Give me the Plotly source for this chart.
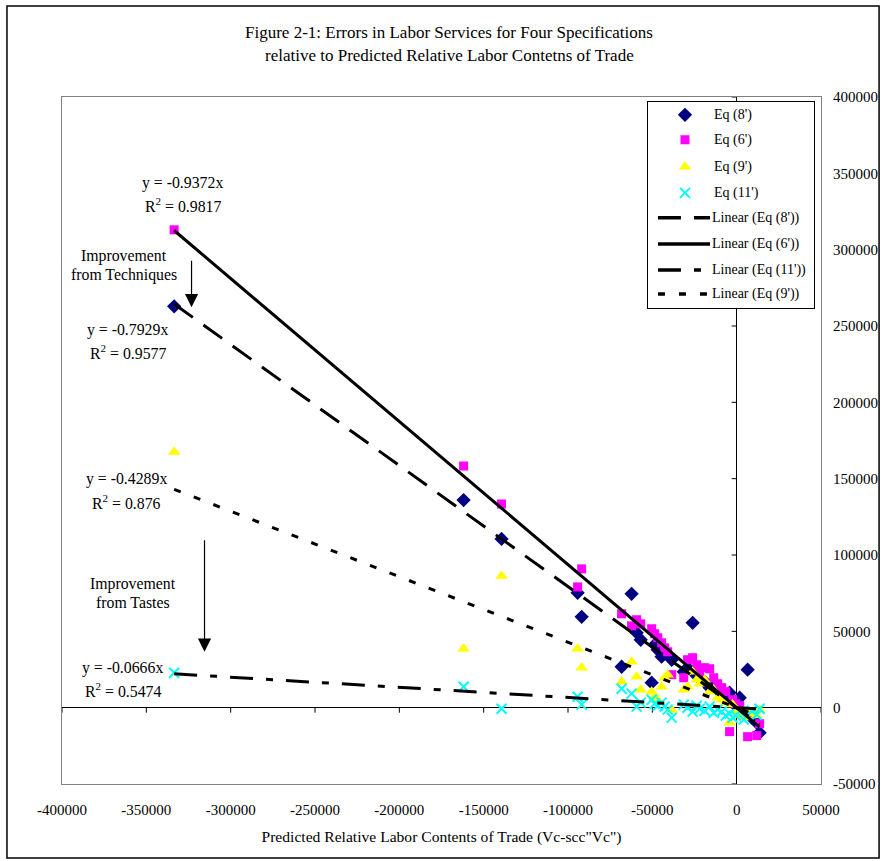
import plotly.graph_objects as go

# Predicted relative labour content of trade (shared by all four specifications)
x_pred = [-333500, -161900, -139400, -94300, -91900, -68200, -62300, -59300, -56900, -50400,
          -48600, -46800, -44500, -42700, -40900, -38500, -31400, -29100, -26100, -23700,
          -21900, -19000, -16000, -13600, -11300, -8900, -6500, -4200, -2400, -600,
          1800, 4200, 6500, 8900, 11900, 13600]

# Errors in labour services for each specification
err_eq8 = [262900, 136000, 110500, 75200, 59500, 26800, 74600, 49100, 44500, 16400,
           41200, 37900, 33400, 36600, 34700, 31400, 23500, 26200, 55600, 20900,
           19600, 17000, 13100, 14400, 11800, 9200, 7800, 9800, 3900, 1300,
           6500, -3900, 24900, -6500, -9800, -16400]
err_eq6 = [313000, 158300, 133400, 79100, 90900, 61500, 53600, 57600, 54900, 51700,
           48400, 45800, 42500, 39200, 36600, 21600, 19600, 31400, 32700, 28100,
           23500, 26200, 25500, 19600, 15700, 13100, 10500, -15700, 5200, 2600,
           1300, -2600, -19000, -3900, -18300, -10500]
err_eq9 = [167400, 38600, 86300, 38600, 26200, 17000, 30100, 20300, 11800, 10500,
           7200, 5200, 13700, 19600, 21600, -1300, 11800, 13700, 23500, 18300,
           15700, 18300, 10500, 11800, 6500, 5200, 3300, -9800, 2000, -2600,
           -4600, -6500, -2600, -3900, -5200, -1300]
err_eq11 = [22900, 13700, -700, 7200, 2000, 12400, 9200, 700, 3300, 5200,
            2600, 1300, 3300, 700, -1300, -6500, 2000, 0, -2600, 1300,
            -700, -2000, 700, -3300, -1300, -2600, -5200, -3900, -6500, -5200,
            -2600, -7800, -5200, -2000, -4600, -700]

# Fitted slopes (regressions through the origin) and their R-squared
slope_eq8, r2_eq8 = -0.7929, 0.9577
slope_eq6, r2_eq6 = -0.9372, 0.9817
slope_eq9, r2_eq9 = -0.4289, 0.876
slope_eq11, r2_eq11 = -0.0666, 0.5474

x_ticks = [-400000, -350000, -300000, -250000, -200000, -150000, -100000, -50000, 0, 50000]
y_ticks = [-50000, 0, 50000, 100000, 150000, 200000, 250000, 300000, 350000, 400000]

FONT = "Liberation Serif, Times New Roman, serif"
BLACK = "black"

marker_styles = {
    "Eq (8')": dict(symbol="diamond", size=11, color="#000080"),
    "Eq (6')": dict(symbol="square", size=9, color="#FF00FF"),
    "Eq (9')": dict(symbol="triangle-up", size=11, color="#FFFF00"),
    "Eq (11')": dict(symbol="x-thin-open", size=10, color="#00FFFF",
                     line=dict(color="#00FFFF", width=2)),
}
series = [("Eq (8')", err_eq8), ("Eq (6')", err_eq6), ("Eq (9')", err_eq9), ("Eq (11')", err_eq11)]

fits = [
    ("Linear (Eq (8'))", slope_eq8, "23px,13px"),
    ("Linear (Eq (6'))", slope_eq6, "solid"),
    ("Linear (Eq (11'))", slope_eq11, "23px,13px,7px,13px"),
    ("Linear (Eq (9'))", slope_eq9, "7px,14px"),
]

fig = go.Figure()

for name, ys in series:
    fig.add_trace(go.Scatter(x=x_pred, y=ys, mode="markers", name=name,
                             marker=marker_styles[name], showlegend=False))

x_lo, x_hi = min(x_pred), max(x_pred)
for name, b, dash in fits:
    fig.add_trace(go.Scatter(x=[x_lo, x_hi], y=[b * x_lo, b * x_hi], mode="lines",
                             name=name, line=dict(color=BLACK, width=3, dash=dash),
                             showlegend=False))

# Key: an inset subplot with a white background, one row per entry
key_rows = [13, 38, 65, 91, 116, 142, 168, 192]
for row, (name, _) in zip(key_rows[:4], series):
    fig.add_trace(go.Scatter(x=[37], y=[row], mode="markers", marker=marker_styles[name],
                             xaxis="x2", yaxis="y2", showlegend=False, hoverinfo="skip"))
    fig.add_annotation(x=64, y=row, xref="x2", yref="y2", text=name, showarrow=False,
                       xanchor="left", yanchor="middle",
                       font=dict(family=FONT, size=14, color=BLACK))
for row, (name, _, dash) in zip(key_rows[4:], fits):
    fig.add_trace(go.Scatter(x=[10, 62], y=[row, row], mode="lines",
                             line=dict(color=BLACK, width=3.5, dash=dash),
                             xaxis="x2", yaxis="y2", showlegend=False, hoverinfo="skip"))
    fig.add_annotation(x=62, y=row, xref="x2", yref="y2", text=name, showarrow=False,
                       xanchor="left", yanchor="middle",
                       font=dict(family=FONT, size=14, color=BLACK))

# Equation / R-squared labels and commentary
def label(x, y, text, size=15.8):
    fig.add_annotation(x=x, y=y, text=text, showarrow=False, xanchor="center",
                       yanchor="middle", font=dict(family=FONT, size=size, color=BLACK))

label(-328500, 343400, f"y = {slope_eq6}x")
label(-328500, 329000, f"R<sup>2</sup> = {r2_eq6}")
label(-363500, 295600, "Improvement")
label(-363500, 283200, "from Techniques")
label(-361100, 247200, f"y = {slope_eq8}x")
label(-361100, 232800, f"R<sup>2</sup> = {r2_eq8}")
label(-361700, 149800, f"y = {slope_eq9}x")
label(-361700, 134700, f"R<sup>2</sup> = {r2_eq9}")
label(-358200, 81100, "Improvement")
label(-358200, 68700, "from Tastes")
label(-364100, 26200, f"y = {slope_eq11}x")
label(-364100, 11800, f"R<sup>2</sup> = {r2_eq11}")

for (ax_x, tip_y, length) in [(-323200, 262300, 48), (-315500, 36600, 113)]:
    fig.add_annotation(x=ax_x, y=tip_y, ax=0, ay=-length, text="", showarrow=True,
                       arrowhead=2, arrowsize=2.2, arrowwidth=1.2, arrowcolor=BLACK)

# Title, two centred lines above the plotting area
for ypos, line in [(1.0932, "Figure 2-1: Errors in Labor Services for Four Specifications"),
                   (1.0611, "relative to Predicted Relative Labor Contetns of Trade")]:
    fig.add_annotation(x=0.5099, y=ypos, xref="paper", yref="paper",
                       xanchor="center", yanchor="middle", showarrow=False,
                       text=line, font=dict(family=FONT, size=17, color=BLACK))

# Tick marks on the axes that cross at the origin
for tx in x_ticks:
    fig.add_shape(type="line", xref="x", yref="y", ysizemode="pixel", yanchor=0,
                  x0=tx, x1=tx, y0=0, y1=-5, line=dict(color=BLACK, width=1), layer="below")
for ty in y_ticks:
    fig.add_shape(type="line", xref="x", yref="y", xsizemode="pixel", xanchor=0,
                  x0=-5, x1=0, y0=ty, y1=ty, line=dict(color=BLACK, width=1), layer="below")

# Outer chart frame
fig.add_shape(type="rect", xref="paper", yref="paper",
              x0=-0.0725, x1=1.0765, y0=-0.1077, y1=1.1325,
              line=dict(color=BLACK, width=1.5), layer="below")

fig.update_layout(
    width=882, height=861,
    margin=dict(l=62, r=61, t=97, b=77),
    paper_bgcolor="white", plot_bgcolor="white",
    font=dict(family=FONT, size=15, color=BLACK),
    showlegend=False,
    xaxis=dict(range=[-400000, 50000], tickvals=x_ticks,
               ticktext=[str(v) for v in x_ticks], showgrid=False,
               zeroline=True, zerolinecolor=BLACK, zerolinewidth=1,
               showline=True, mirror=True, linecolor="#808080", linewidth=1,
               ticks="", ticklabelstandoff=12, automargin=False,
               tickfont=dict(family=FONT, size=15),
               title=dict(text='Predicted Relative Labor Contents of Trade (Vc-scc"Vc")',
                          font=dict(family=FONT, size=15.6), standoff=14)),
    yaxis=dict(range=[-50000, 400000], tickvals=y_ticks,
               ticktext=[str(v) for v in y_ticks], side="right", showgrid=False,
               zeroline=True, zerolinecolor=BLACK, zerolinewidth=1,
               showline=True, mirror=True, linecolor="#808080", linewidth=1,
               ticks="", ticklabelstandoff=8, automargin=False,
               tickfont=dict(family=FONT, size=15)),
    xaxis2=dict(domain=[0.772, 0.991], range=[0, 166], anchor="y2",
                showgrid=False, zeroline=False, showticklabels=False, ticks="",
                showline=True, mirror=True, linecolor=BLACK, linewidth=1, fixedrange=True),
    yaxis2=dict(domain=[0.693, 0.993], range=[206, 0], anchor="x2",
                showgrid=False, zeroline=False, showticklabels=False, ticks="",
                showline=True, mirror=True, linecolor=BLACK, linewidth=1, fixedrange=True),
)

fig.write_html("out.html")
